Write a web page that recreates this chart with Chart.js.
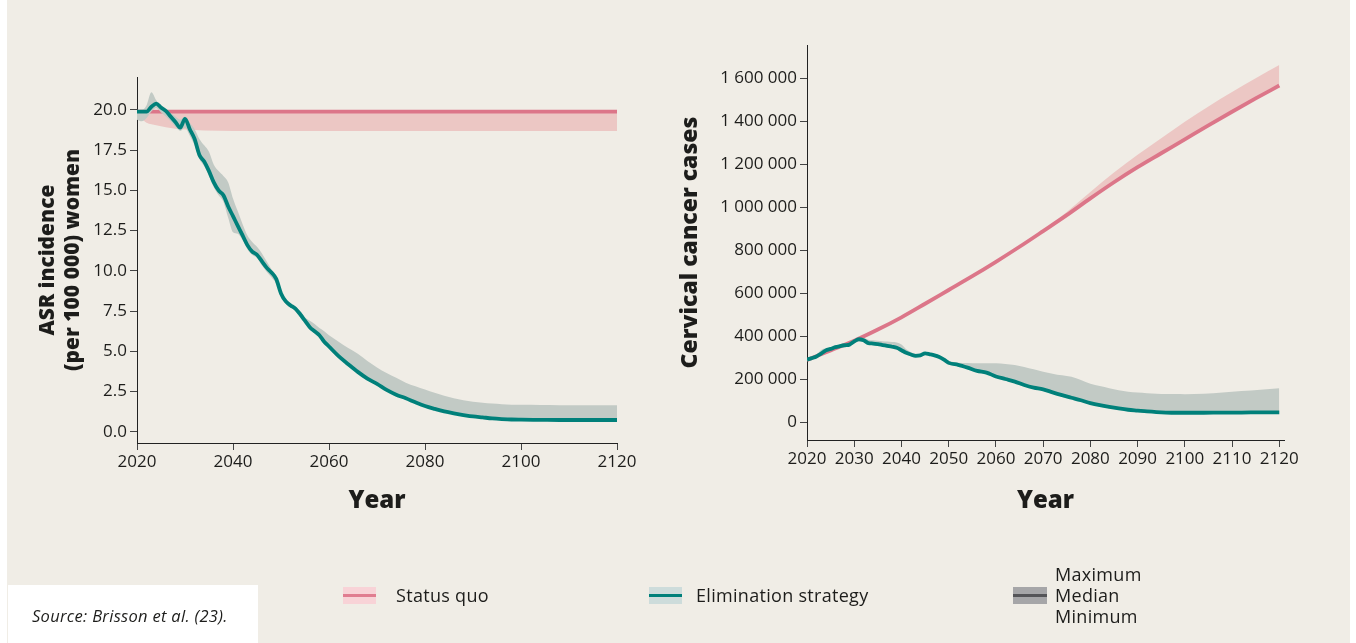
<!DOCTYPE html>
<html>
<head>
<meta charset="utf-8">
<script src="https://cdn.jsdelivr.net/npm/chart.js@4.4.1/dist/chart.umd.min.js"></script>
<style>
html,body{margin:0;padding:0;background:#ffffff;width:1356px;height:643px;overflow:hidden;}
#bg{position:absolute;left:7px;top:0;width:1343px;height:643px;background:#f0ede6;}
canvas{position:absolute;top:0;}
#c1{left:0;}
#c2{left:660px;}
.src{position:absolute;left:8px;top:585px;width:250px;height:58px;background:#ffffff;}
.src span{position:absolute;left:24px;top:19px;font-family:'Open Sans',sans-serif;font-style:italic;font-size:16.5px;letter-spacing:0.3px;color:#1d1d1b;white-space:nowrap;}
.patch{position:absolute;width:33px;height:17px;}
.patch i{position:absolute;left:0;right:0;top:7px;height:3px;}
.lt{position:absolute;font-family:'Open Sans',sans-serif;font-size:18px;letter-spacing:0.3px;color:#1d1d1b;white-space:nowrap;line-height:20px;}
</style>
</head>
<body>
<div id="bg"></div>
<canvas id="c1" width="660" height="643"></canvas>
<canvas id="c2" width="696" height="643"></canvas>
<div class="src"><span>Source: Brisson et al. (23).</span></div>

<div class="patch" style="left:343px;top:587px;background:#f8d3d7;"><i style="background:#e07d90;"></i></div>
<div class="lt" style="left:396px;top:585px;">Status quo</div>

<div class="patch" style="left:649px;top:587px;background:#cddcdb;"><i style="background:#00807a;"></i></div>
<div class="lt" style="left:696px;top:585px;">Elimination strategy</div>

<div class="patch" style="left:1013px;top:587px;width:34px;background:#a6a6a8;"><i style="background:#555558;"></i></div>
<div class="lt" style="left:1055px;top:564px;">Maximum</div>
<div class="lt" style="left:1055px;top:585px;">Median</div>
<div class="lt" style="left:1055px;top:606px;">Minimum</div>

<script>
// ---------- Left chart: ASR incidence (per 100 000) women ----------
const asrYears = [2020,2021,2022,2023,2024,2025,2026,2027,2028,2029,
  2030,2031,2032,2033,2034,2035,2036,2037,2038,2039,
  2040,2041,2042,2043,2044,2045,2046,2047,2048,2049,
  2050,2051,2052,2053,2054,2055,2056,2057,2058,2059,2060,
  2062,2064,2066,2068,2070,2072,2074,2076,2078,2080,
  2082,2084,2086,2088,2090,2092,2094,2096,2098,2100,
  2104,2108,2112,2116,2120];
const asrElimMedian = [19.9,19.9,19.9,20.2,20.4,20.15,19.95,19.6,19.25,18.9,
  19.45,18.8,18.2,17.2,16.8,16.2,15.5,15.0,14.7,14.0,
  13.4,12.8,12.2,11.6,11.2,11.0,10.6,10.2,9.9,9.5,
  8.6,8.1,7.85,7.65,7.3,6.9,6.5,6.25,6.0,5.6,5.3,
  4.7,4.2,3.72,3.3,2.97,2.6,2.3,2.08,1.83,1.6,
  1.42,1.26,1.14,1.04,0.95,0.89,0.83,0.79,0.76,0.75,
  0.74,0.73,0.73,0.73,0.73];
const asrElimMax = [20.0,20.0,20.3,21.1,20.6,20.2,20.0,19.8,19.6,19.4,
  19.6,19.2,18.8,18.2,17.8,17.4,16.6,16.2,15.9,15.5,
  14.5,13.7,12.9,12.2,11.8,11.5,11.1,10.6,10.1,9.7,
  8.8,8.3,8.0,7.8,7.5,7.1,6.9,6.7,6.45,6.25,6.0,
  5.6,5.2,4.85,4.4,4.0,3.65,3.35,3.05,2.82,2.62,
  2.42,2.24,2.08,1.96,1.86,1.8,1.75,1.71,1.68,1.67,
  1.66,1.65,1.65,1.65,1.65];
const asrElimMin = [19.4,19.3,19.5,19.9,20.1,19.85,19.6,19.3,18.95,18.7,
  18.9,18.4,17.8,16.95,16.5,15.9,15.2,14.7,14.3,13.3,
  12.4,12.3,11.9,11.35,11.0,10.8,10.35,9.95,9.6,9.2,
  8.4,7.95,7.7,7.5,7.1,6.7,6.35,6.1,5.85,5.45,5.15,
  4.58,4.1,3.62,3.2,2.88,2.52,2.22,2.0,1.76,1.53,
  1.36,1.2,1.09,0.99,0.91,0.85,0.8,0.76,0.73,0.72,
  0.71,0.7,0.7,0.7,0.7];
const asrQuoYears  = [2020,2021,2022,2024,2026,2028,2030,2034,2040,2120];
const asrQuoMedian = [19.9,19.9,19.9,19.9,19.9,19.9,19.9,19.9,19.9,19.9];
const asrQuoMax    = [19.95,19.95,19.95,19.95,19.95,19.95,19.95,19.95,19.95,19.95];
const asrQuoMin    = [19.75,19.45,19.2,19.05,18.93,18.84,18.78,18.72,18.7,18.7];
const asrXTicks = [2020,2040,2060,2080,2100,2120];
const asrYTicks = [0,2.5,5,7.5,10,12.5,15,17.5,20];

// ---------- Right chart: Cervical cancer cases (thousands) ----------
const casesYears = [2020,2021,2022,2023,2024,2025,2026,2027,2028,2029,
  2030,2031,2032,2033,2034,2035,2036,2037,2038,2039,
  2040,2041,2042,2043,2044,2045,2046,2047,2048,2049,2050,
  2052,2054,2056,2058,2060,2062,2064,2066,2068,2070,
  2072,2074,2076,2078,2080,2082,2084,2086,2088,2090,
  2092,2094,2096,2098,2100,
  2104,2108,2112,2116,2120];
const casesElimMedianK = [290,297,305,318,333,340,348,353,357,360,
  375,385,380,367,365,362,358,354,350,345,
  334,322,314,308,310,319,315,310,302,290,275,
  266,253,238,230,212,200,188,172,160,152,
  138,125,113,101,88,78,70,63,57,53,
  49,46,44,43,43,
  43,44,44,45,45];
const casesElimMaxK = [292,300,312,335,343,348,355,360,364,368,
  382,390,390,383,380,378,376,374,372,370,
  360,338,325,318,318,323,320,316,310,298,285,
  276,274,273,273,273,270,265,256,245,234,
  225,217,210,195,178,167,157,148,141,137,
  134,131,130,130,129,
  131,137,144,150,157];
const casesElimMinK = [286,293,300,313,327,335,343,348,352,355,
  365,376,372,360,358,355,351,347,343,337,
  325,315,307,302,304,312,308,303,295,283,268,
  259,246,231,223,205,193,181,165,153,145,
  131,118,106,94,81,72,64,57,52,48,
  44,41,39,38,38,
  38,39,39,40,40];
const casesQuoYears = [2020,2025,2030,2035,2040,2045,2050,2055,2060,2065,2070,
  2075,2080,2085,2090,2095,2100,2105,2110,2115,2120];
const casesQuoMedianK = [288,333,378,430,487,550,614,678,745,815,888,
  962,1040,1115,1185,1250,1315,1380,1443,1505,1565];
const casesQuoMaxK = [292,337,383,435,492,555,619,683,750,820,893,
  977,1070,1160,1243,1320,1397,1468,1535,1599,1660];
const casesQuoMinK = [283,328,373,425,482,545,609,673,740,810,883,
  957,1035,1110,1180,1245,1310,1375,1438,1500,1560];
const casesXTicks = [2020,2030,2040,2050,2060,2070,2080,2090,2100,2110,2120];
const casesYTicksK = [0,200,400,600,800,1000,1200,1400,1600];

// ---------- styles ----------
const TEAL = '#00807a', GRAYBAND = '#c2cac5';
const PINK = '#dc7689', PINKBAND = '#ecc7c4';
const INK = '#1d1d1b';
const FAMILY = "'Open Sans', sans-serif";
const CLEAR = 'rgba(0,0,0,0)';

function pts(xs, ys) { return xs.map((x, i) => ({ x: x, y: ys[i] })); }
function lineDs(xs, ys, color, order) {
  return { data: pts(xs, ys), borderColor: color, borderWidth: 3.8, pointRadius: 0,
    fill: false, order: order, cubicInterpolationMode: 'monotone', borderJoinStyle: 'round', borderCapStyle: 'butt' };
}
function bandTop(xs, ys, color, order) {
  return { data: pts(xs, ys), borderColor: CLEAR, borderWidth: 0, pointRadius: 0,
    backgroundColor: color, fill: '+1', order: order, cubicInterpolationMode: 'monotone' };
}
function bandBottom(xs, ys, order) {
  return { data: pts(xs, ys), borderColor: CLEAR, borderWidth: 0, pointRadius: 0,
    fill: false, order: order, cubicInterpolationMode: 'monotone' };
}
function setTicks(arr) { return function (s) { s.ticks = arr.map(v => ({ value: v })); }; }
function fmtCases(k) {
  if (k === 0) return '0';
  const th = Math.floor(k / 1000), rest = k % 1000;
  return th > 0 ? th + ' ' + String(rest).padStart(3, '0') + ' 000' : rest + ' 000';
}
function axisCommon() {
  return {
    border: { display: true, color: '#222222', width: 1 },
    grid: { display: true, drawOnChartArea: false, drawTicks: true, tickLength: 7, color: '#444444', lineWidth: 1 },
  };
}

Chart.defaults.font.family = FAMILY;
Chart.defaults.color = INK;

function makeChart(id, cfg) {
  return new Chart(document.getElementById(id), {
    type: 'line',
    data: { datasets: cfg.datasets },
    options: {
      responsive: false, animation: false, devicePixelRatio: 1,
      layout: { padding: cfg.padding },
      plugins: { legend: { display: false }, tooltip: { enabled: false } },
      elements: { line: { tension: 0 } },
      scales: {
        x: Object.assign(axisCommon(), {
          type: 'linear', min: cfg.xMin, max: cfg.xMax,
          afterBuildTicks: setTicks(cfg.xTicks),
          afterFit: function (s) { s.height = cfg.xH; s.paddingLeft = 0; s.paddingRight = 0; },
          ticks: { font: { size: 17 }, color: INK, padding: 2, maxRotation: 0, autoSkip: false,
            callback: v => String(v) },
          title: { display: true, text: 'Year', color: INK, padding: { top: 0, bottom: 0 },
            font: { size: 24, weight: '800' } }
        }),
        y: Object.assign(axisCommon(), {
          type: 'linear', min: cfg.yMin, max: cfg.yMax,
          afterBuildTicks: setTicks(cfg.yTicks),
          afterFit: function (s) { s.width = cfg.yW; s.paddingTop = 0; s.paddingBottom = 0; },
          ticks: { font: { size: 17 }, color: INK, padding: 3, autoSkip: false, callback: cfg.yFmt },
          title: { display: true, text: cfg.yTitle, color: INK, padding: { top: 0, bottom: 0 },
            font: { size: cfg.yTitleSize, weight: '800', lineHeight: 1.2 } }
        })
      }
    }
  });
}

makeChart('c1', {
  datasets: [
    lineDs(asrYears, asrElimMedian, TEAL, 0),
    bandTop(asrYears, asrElimMax, GRAYBAND, 1),
    bandBottom(asrYears, asrElimMin, 1),
    lineDs(asrQuoYears, asrQuoMedian, PINK, 2),
    bandTop(asrQuoYears, asrQuoMax, PINKBAND, 3),
    bandBottom(asrQuoYears, asrQuoMin, 3)
  ],
  padding: { left: 35, right: 43, top: 77, bottom: 127 },
  xMin: 2020, xMax: 2120, xTicks: asrXTicks, xH: 73,
  yMin: -0.7, yMax: 22.05, yTicks: asrYTicks, yW: 102,
  yFmt: v => v.toFixed(1),
  yTitle: ['ASR incidence', '(per 100 000) women'], yTitleSize: 21
});

makeChart('c2', {
  datasets: [
    lineDs(casesYears, casesElimMedianK, TEAL, 0),
    bandTop(casesYears, casesElimMaxK, GRAYBAND, 1),
    bandBottom(casesYears, casesElimMinK, 1),
    lineDs(casesQuoYears, casesQuoMedianK, PINK, 2),
    bandTop(casesQuoYears, casesQuoMaxK, PINKBAND, 3),
    bandBottom(casesQuoYears, casesQuoMinK, 3)
  ],
  padding: { left: 17, right: 72, top: 45, bottom: 127 },
  xMin: 2020, xMax: 2121, xTicks: casesXTicks, xH: 76,
  yMin: -83.7, yMax: 1753.5, yTicks: casesYTicksK, yW: 130,
  yFmt: v => fmtCases(v),
  yTitle: 'Cervical cancer cases', yTitleSize: 23
});
</script>
</body>
</html>
